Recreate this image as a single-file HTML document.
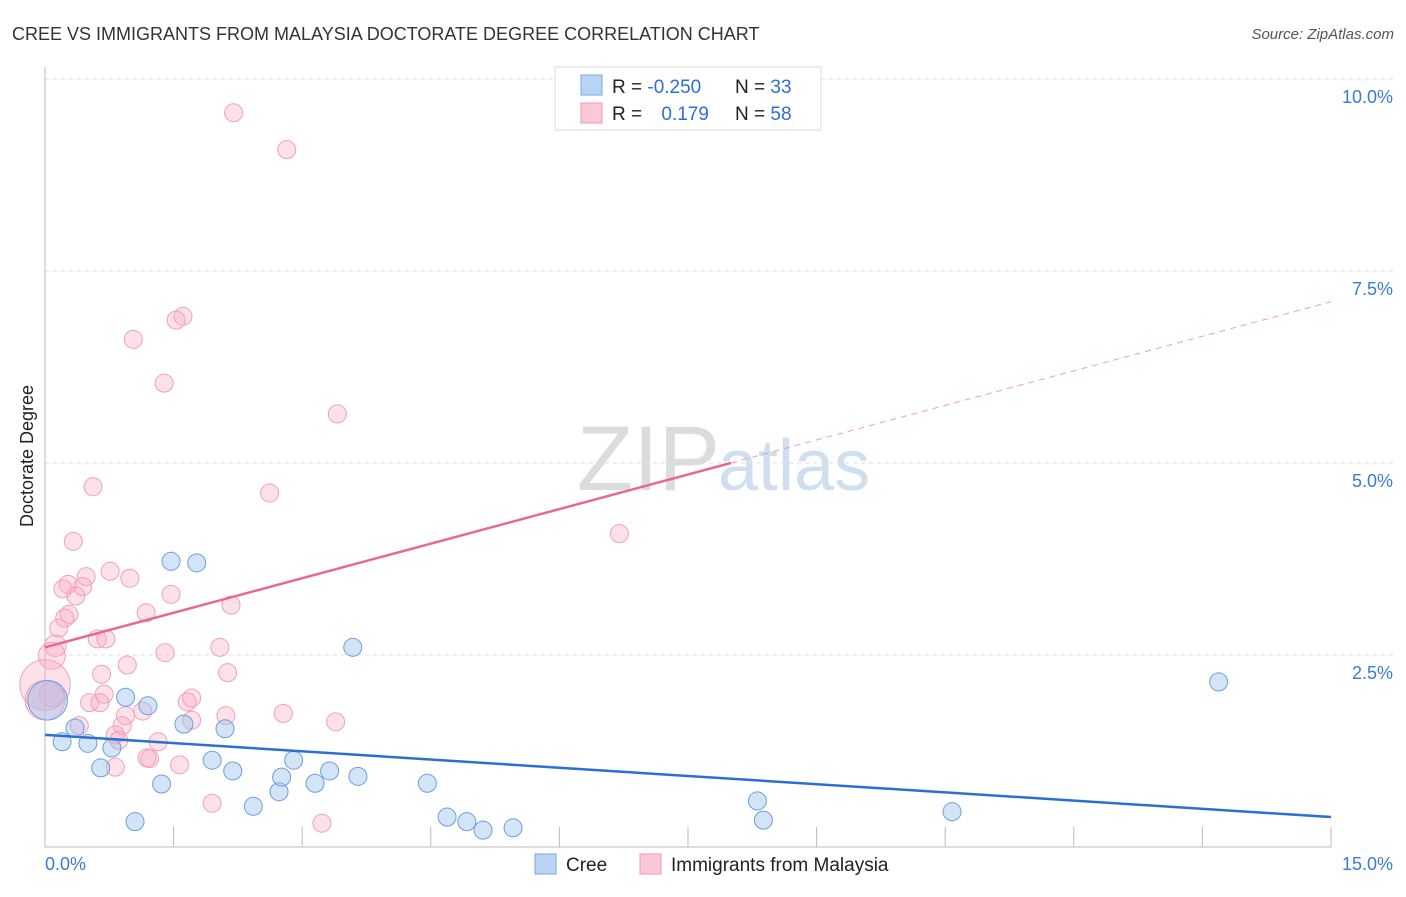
<!DOCTYPE html>
<html><head><meta charset="utf-8"><style>
body{margin:0;background:#fff;font-family:"Liberation Sans",sans-serif;}
svg text{font-family:"Liberation Sans",sans-serif;}
</style></head><body>
<svg id="chart" width="1406" height="892" viewBox="0 0 1406 892">
<text x="12" y="40" font-size="18" fill="#333">CREE VS IMMIGRANTS FROM MALAYSIA DOCTORATE DEGREE CORRELATION CHART</text>
<text x="1394" y="39" font-size="15" fill="#555" text-anchor="end" font-style="italic">Source: ZipAtlas.com</text>
<text x="720" y="490" font-size="92" fill="#dcdcdc" text-anchor="end" font-family="Liberation Serif">ZIP</text>
<text x="718" y="490" font-size="72" fill="#cfdff0">atlas</text>
<g id="grid"></g><g id="axes"></g><g id="marks"></g>
<text transform="translate(33,456) rotate(-90)" font-size="18" fill="#222" text-anchor="middle">Doctorate Degree</text>
<g>
<rect x="555" y="67" width="266" height="63" fill="#fff" stroke="#ddd"/>
<rect x="581" y="75" width="21" height="20" fill="#b8d4f4" stroke="#7aa8e0"/>
<rect x="581" y="103" width="21" height="20" fill="#fbc8d6" stroke="#ef9ab4"/>
<text x="612" y="93" font-size="19" fill="#222">R = <tspan fill="#2c6fd6">-0.250</tspan></text>
<text x="735" y="93" font-size="19" fill="#222">N = <tspan fill="#2c6fd6">33</tspan></text>
<text x="612" y="120" font-size="19" fill="#222">R = <tspan fill="#2c6fd6" dx="14">0.179</tspan></text>
<text x="735" y="120" font-size="19" fill="#222">N = <tspan fill="#2c6fd6">58</tspan></text>
</g>
<g>
<rect x="535" y="854" width="21" height="20" fill="#b8d4f4" stroke="#7aa8e0"/>
<text x="566" y="871" font-size="19" fill="#222">Cree</text>
<rect x="640" y="854" width="21" height="20" fill="#fbc8d6" stroke="#ef9ab4"/>
<text x="671" y="871" font-size="19" fill="#222">Immigrants from Malaysia</text>
</g>
</svg>
<script>
const yTicks=[2.5,5,7.5,10];
const yTickLabels=["2.5%","5.0%","7.5%","10.0%"];
const xTicks=[1.5,3,4.5,6,7.5,9,10.5,12,13.5,15];
const creeX=[0.03,0.20,0.35,0.50,0.65,0.78,0.94,1.05,1.20,1.36,1.47,1.62,1.77,1.95,2.10,2.19,2.43,2.73,2.76,2.90,3.15,3.32,3.59,3.65,4.46,4.69,4.92,5.11,5.46,8.31,8.38,10.58,13.69];
const creeY=[1.91,1.37,1.55,1.35,1.03,1.29,1.95,0.33,1.84,0.82,3.72,1.60,3.70,1.13,1.54,0.99,0.53,0.72,0.91,1.13,0.83,0.99,2.60,0.92,0.83,0.39,0.33,0.22,0.25,0.60,0.35,0.46,2.15];
const creeSize=[2.2,1,1,1,1,1,1,1,1,1,1,1,1,1,1,1,1,1,1,1,1,1,1,1,1,1,1,1,1,1,1,1,1];
const malX=[2.20,2.82,1.61,1.53,1.03,1.39,3.41,2.62,0.56,6.70,0.33,0.76,0.99,0.48,0.27,0.44,0.21,0.36,0.28,0.23,1.18,1.47,2.17,0.16,0.12,0.08,0.61,0.71,1.40,2.04,0.66,0.96,2.13,0.00,0.69,0.52,0.64,1.66,1.71,2.78,1.14,0.94,2.11,1.71,3.39,0.40,0.90,1.22,1.19,0.82,0.86,1.32,1.57,0.82,1.95,3.23,0.08,0.00];
const malY=[9.56,9.08,6.91,6.86,6.61,6.04,5.64,4.61,4.69,4.08,3.98,3.59,3.50,3.52,3.42,3.39,3.36,3.27,3.03,2.98,3.05,3.29,3.15,2.85,2.62,2.49,2.71,2.71,2.53,2.60,2.25,2.37,2.27,2.11,1.99,1.88,1.88,1.89,1.94,1.74,1.77,1.71,1.71,1.65,1.63,1.58,1.58,1.15,1.16,1.46,1.39,1.37,1.07,1.04,0.57,0.31,1.99,1.91];
const malSize=[1,1,1,1,1,1,1,1,1,1,1,1,1,1,1,1,1,1,1,1,1,1,1,1,1.2,1.5,1,1,1,1,1,1,1,2.8,1,1,1,1,1,1,1,1,1,1,1,1,1,1,1,1,1,1,1,1,1,1,1.4,2.2];
const creeTrend=[1.46,0.39];
const malTrend=[2.60,7.10];
const malSolidEnd=8.0;
const X=v=>45+v*85.73, Y=v=>847-v*76.8;
const NS="http://www.w3.org/2000/svg";
function mk(tag,parent,attrs){const e=document.createElementNS(NS,tag);for(const k in attrs)e.setAttribute(k,attrs[k]);document.getElementById(parent).appendChild(e);return e;}
yTicks.forEach((t,i)=>{
 const l=mk('line','grid',{x1:45,x2:1394,y1:Y(t),y2:Y(t),stroke:'#ddd','stroke-dasharray':'4,4'});
 
 
 const tx=mk('text','grid',{x:1393,y:Y(t)+24,'font-size':18,fill:'#3a7bd5','text-anchor':'end'});
 tx.textContent=yTickLabels[i];
 
 
});
const ax=mk('line','axes',{x1:45,x2:45,y1:67,y2:847,stroke:'#bbb'});


const bx=mk('line','axes',{x1:45,x2:1331,y1:847,y2:847,stroke:'#bbb'});


xTicks.forEach(t=>{
 const l=mk('line','axes',{x1:X(t),x2:X(t),y1:827,y2:847,stroke:'#bbb'});
 
 
});
const x0=mk('text','axes',{x:45,y:870,'font-size':18,fill:'#3a7bd5'});x0.textContent='0.0%';


const x1=mk('text','axes',{x:1393,y:870,'font-size':18,fill:'#3a7bd5','text-anchor':'end'});x1.textContent='15.0%';


malX.forEach((v,i)=>{
 const c=mk('circle','marks',{cx:X(v),cy:Y(malY[i]),r:9*malSize[i],fill:'rgba(248,170,195,0.35)',stroke:'#f0a0b8','stroke-width':1});
 
 
});
creeX.forEach((v,i)=>{
 const c=mk('circle','marks',{cx:X(v),cy:Y(creeY[i]),r:9*creeSize[i],fill:'rgba(160,196,238,0.45)',stroke:'#6a9fe0','stroke-width':1});
 
 
});
const ms=(malTrend[1]-malTrend[0])/15;
const pl=mk('line','marks',{x1:X(0),y1:Y(malTrend[0]),x2:X(malSolidEnd),y2:Y(malTrend[0]+ms*malSolidEnd),stroke:'#e8688f','stroke-width':2.5});


const pd=mk('line','marks',{x1:X(malSolidEnd),y1:Y(malTrend[0]+ms*malSolidEnd),x2:X(15),y2:Y(malTrend[1]),stroke:'#e8a0b4','stroke-width':1,'stroke-dasharray':'6,5'});


const bl=mk('line','marks',{x1:X(0),y1:Y(creeTrend[0]),x2:X(15),y2:Y(creeTrend[1]),stroke:'#2a6fd6','stroke-width':2.5});


</script>
</body></html>
